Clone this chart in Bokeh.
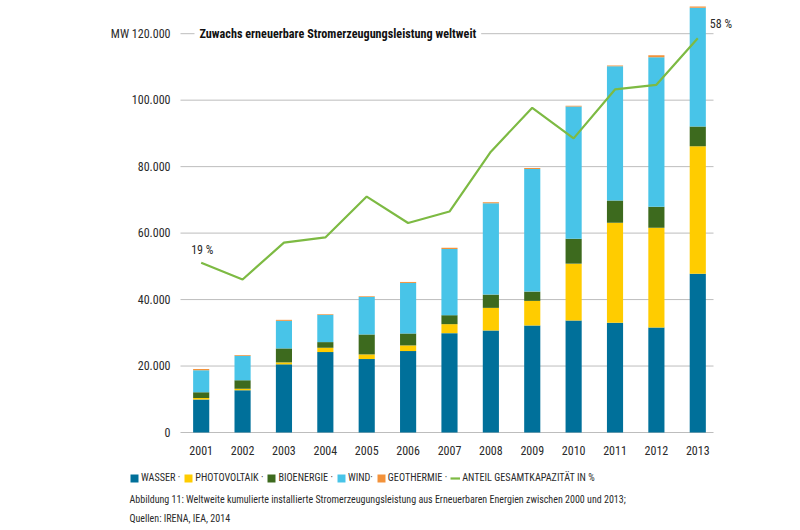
from bokeh.plotting import figure
from bokeh.models import Range1d, FixedTicker, Label, Legend, LegendItem, ColumnDataSource
from bokeh.embed import file_html
from bokeh.resources import INLINE

# ---------------- data ----------------
years = [2001, 2002, 2003, 2004, 2005, 2006, 2007, 2008, 2009, 2010, 2011, 2012, 2013]
wasser = [9900, 12700, 20500, 24200, 22100, 24500, 29900, 30700, 32200, 33700, 33000, 31600, 47800]
photovoltaik = [500, 500, 600, 1300, 1400, 1700, 2700, 6800, 7400, 17100, 30100, 30000, 38300]
bioenergie = [1700, 2500, 4200, 1700, 6000, 3600, 2700, 4000, 2800, 7500, 6700, 6300, 6000]
wind = [6600, 7400, 8300, 8200, 11300, 15200, 19900, 27500, 36900, 39800, 40400, 45000, 35700]
geothermie = [400, 200, 300, 200, 200, 300, 400, 300, 300, 200, 200, 600, 400]
anteil_pct = [19, 16.1, 22.5, 23.4, 30.5, 25.9, 27.9, 38.3, 45.9, 40.6, 49.1, 49.9, 58]

series_keys = ["wasser", "photovoltaik", "bioenergie", "wind", "geothermie"]
legend_labels = ["WASSER \u00b7", "PHOTOVOLTAIK \u00b7", "BIOENERGIE \u00b7", "WIND\u00b7", "GEOTHERMIE \u00b7"]
line_label = "ANTEIL GESAMTKAPAZIT\u00c4T IN %"
y_ticks = [0, 20000, 40000, 60000, 80000, 100000, 120000]
y_tick_labels = ["0", "20.000", "40.000", "60.000", "80.000", "100.000", "MW 120.000"]
chart_title = "Zuwachs erneuerbare Stromerzeugungsleistung weltweit"
caption_1 = ("Abbildung 11: Weltweite kumulierte installierte Stromerzeugungsleistung aus "
             "Erneuerbaren Energien zwischen 2000 und 2013;")
caption_2 = "Quellen: IRENA, IEA, 2014"

# ---------------- style / layout ----------------
FONT = "Roboto Condensed, DejaVu Sans Condensed, Roboto"
colors = ["#00709a", "#ffcc00", "#3d6a1e", "#48c4e8", "#f3923a"]
line_color = "#7dba43"
text_color = "#2a2a2a"
grid_color = "#bdbdbd"

W, H = 800, 530
# plotting area in pixels: left 180, right 713, baseline 432
px_left, px_right, px_base = 180, 713, 432
x_start, x_end = 2000.5, 2013.38             # data extent of the plotting area
px_per_year = (px_right - px_left) / (x_end - x_start)
mw_per_px = 300.9
pct_start, px_per_pct = -10.47, 5.759        # share axis: value at baseline, pixels per %

full_x = Range1d(x_start - px_left / px_per_year, x_start + (W - px_left) / px_per_year)
full_y = Range1d(-(H - px_base) * mw_per_px, px_base * mw_per_px)
full_pct = Range1d(pct_start - (H - px_base) / px_per_pct, pct_start + px_base / px_per_pct)

p = figure(width=W, height=H, output_backend="svg", toolbar_location=None,
           x_range=full_x, y_range=full_y, min_border=0)
p.extra_y_ranges = {"pct": full_pct}
p.outline_line_color = None
p.background_fill_color = "white"
p.border_fill_color = "white"
p.grid.visible = False

# horizontal grid lines limited to the plotting area
p.segment(x0=[x_start] * len(y_ticks), x1=[x_end] * len(y_ticks), y0=y_ticks, y1=y_ticks,
          line_color=grid_color, line_width=1)

src = ColumnDataSource(dict(year=years, wasser=wasser, photovoltaik=photovoltaik,
                            bioenergie=bioenergie, wind=wind, geothermie=geothermie))
bars = p.vbar_stack(series_keys, x="year", width=0.39, color=colors, line_color=None, source=src)

line_r = p.line(years, anteil_pct, y_range_name="pct", line_color=line_color, line_width=2.2)

# axes pinned to the plotting area
p.xaxis.fixed_location = 0
p.yaxis.fixed_location = x_start
p.xaxis.ticker = FixedTicker(ticks=years)
p.yaxis.ticker = FixedTicker(ticks=y_ticks)
p.yaxis.major_label_overrides = {t: l for t, l in zip(y_ticks, y_tick_labels)}
for ax in (p.xaxis[0], p.yaxis[0]):
    ax.axis_line_color = None
    ax.major_tick_line_color = None
    ax.minor_tick_line_color = None
    ax.major_label_text_font = FONT
    ax.major_label_text_font_size = "12px"
    ax.major_label_text_color = text_color
p.yaxis.major_label_standoff = 4
p.xaxis.major_label_standoff = 7

# title sitting on the top grid line
p.add_layout(Label(x=x_start, y=y_ticks[-1], x_offset=14, text=chart_title,
                   text_font=FONT, text_font_style="bold", text_font_size="12.2px",
                   text_color="#111111", text_baseline="middle",
                   background_fill_color="white", padding=5))

# start / end value annotations of the share line
p.add_layout(Label(x=years[0], y=anteil_pct[0], y_range_name="pct", x_offset=-10, y_offset=6,
                   text=f"{anteil_pct[0]:.0f} %", text_font=FONT, text_font_size="12px",
                   text_color=text_color, text_baseline="bottom"))
p.add_layout(Label(x=years[-1], y=anteil_pct[-1], y_range_name="pct", x_offset=12, y_offset=14,
                   text=f"{anteil_pct[-1]:.0f} %", text_font=FONT, text_font_size="12px",
                   text_color=text_color, text_baseline="middle"))

# legend
items = [LegendItem(label=lab, renderers=[r]) for lab, r in zip(legend_labels, bars)]
items.append(LegendItem(label=line_label, renderers=[line_r]))
legend = Legend(items=items, orientation="horizontal", location=(129, 46),
                glyph_width=10, glyph_height=10, label_height=13, label_standoff=2, spacing=3,
                padding=0, margin=0, border_line_color=None, background_fill_alpha=0,
                label_text_font=FONT, label_text_font_size="10.2px", label_text_color=text_color)
p.add_layout(legend, "center")

# captions
p.add_layout(Label(x=x_start, y=0, x_offset=-51, y_offset=-67, text=caption_1,
                   text_font=FONT, text_font_size="10px", text_color=text_color,
                   text_baseline="middle"))
p.add_layout(Label(x=x_start, y=0, x_offset=-51, y_offset=-86, text=caption_2,
                   text_font=FONT, text_font_size="10px", text_color=text_color,
                   text_baseline="middle"))

open("out.html", "w").write(file_html(p, INLINE))
